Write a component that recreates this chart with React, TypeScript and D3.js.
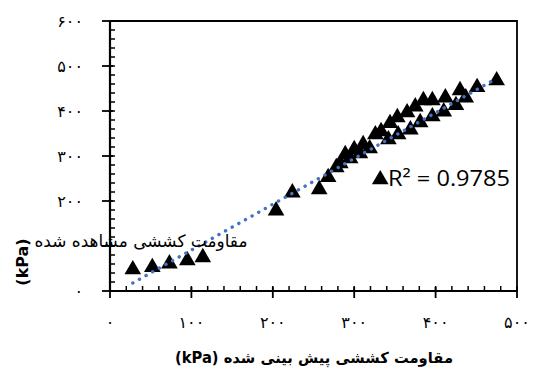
// App.tsx
import React, { useRef, useEffect } from 'react';
import * as d3 from 'd3';

// predicted (x) vs observed (y) tensile strength, kPa
const predicted = [
  28, 52, 73, 95, 114,
  204, 224, 257, 268, 278, 289, 300, 311, 326, 333, 344, 353, 365, 375, 385, 396, 412, 430, 451, 475,
  283, 295, 307, 319, 332, 342, 354, 369, 381, 396, 410, 425, 437,
];
const observed = [
  51, 56, 64, 71, 78,
  182, 222, 229, 256, 278, 307, 318, 329, 351, 358, 376, 389, 400, 413, 427, 427, 433, 449, 456, 471,
  287, 298, 309, 320, 251, 340, 351, 362, 378, 391, 402, 416, 433,
];

const xTicks = [0, 100, 200, 300, 400, 500];
const yTicks = [0, 100, 200, 300, 400, 500, 600];
const xTickLabels = ['۰', '۱۰۰', '۲۰۰', '۳۰۰', '۴۰۰', '۵۰۰'];
// the 100 label sits under the axis title in the source, so it is not shown
const yTickLabels = ['۰', '', '۲۰۰', '۳۰۰', '۴۰۰', '۵۰۰', '۶۰۰'];

const trendSlope = 1.017;
const trendIntercept = -10.7;
const r2Label = 'R² = 0.9785';

const xTitle = '(kPa) مقاومت کششی پیش بینی شده';
const yTitleUnit = '(kPa)';
const yTitleText = 'مقاومت کششی مشاهده شده';

const App = () => {
  const ref = useRef<SVGSVGElement>(null);

  useEffect(() => {
    document.body.style.margin = '0';
    const svg = d3.select(ref.current);
    svg.selectAll('*').remove();

    const width = 536, height = 372;
    const left = 110, right = 517, top = 21, bottom = 291;

    const x = d3.scaleLinear().domain([0, 500]).range([left, right]);
    const y = d3.scaleLinear().domain([0, 600]).range([bottom, top]);

    svg.attr('width', width).attr('height', height);
    svg.append('rect').attr('width', width).attr('height', height).attr('fill', '#fff');

    // plot border (top and right)
    svg.append('path')
      .attr('d', `M${left},${top}H${right}V${bottom}`)
      .attr('fill', 'none')
      .attr('stroke', '#000')
      .attr('stroke-width', 1.8);

    // minor ticks
    const minorX = d3.range(0, 501, 20);
    const minorY = d3.range(0, 601, 20);
    svg.append('g').selectAll('line').data(minorX).join('line')
      .attr('x1', d => x(d)).attr('x2', d => x(d))
      .attr('y1', bottom).attr('y2', bottom - 5)
      .attr('stroke', '#000').attr('stroke-width', 1.5);
    svg.append('g').selectAll('line').data(minorY).join('line')
      .attr('x1', left).attr('x2', left + 5)
      .attr('y1', d => y(d)).attr('y2', d => y(d))
      .attr('stroke', '#000').attr('stroke-width', 1.5);

    // major ticks
    svg.append('g').selectAll('line').data(xTicks).join('line')
      .attr('x1', d => x(d)).attr('x2', d => x(d))
      .attr('y1', bottom - 4).attr('y2', bottom + 7)
      .attr('stroke', '#000').attr('stroke-width', 1.8);
    svg.append('g').selectAll('line').data(yTicks).join('line')
      .attr('x1', left - 8).attr('x2', left + 3)
      .attr('y1', d => y(d)).attr('y2', d => y(d))
      .attr('stroke', '#000').attr('stroke-width', 1.8);

    // axis lines
    svg.append('line')
      .attr('x1', left).attr('x2', right).attr('y1', bottom).attr('y2', bottom)
      .attr('stroke', '#000').attr('stroke-width', 2.2);
    svg.append('line')
      .attr('x1', left).attr('x2', left).attr('y1', top).attr('y2', bottom)
      .attr('stroke', '#000').attr('stroke-width', 2.2);

    // tick labels
    svg.append('g').selectAll('text').data(xTicks).join('text')
      .attr('x', d => x(d)).attr('y', bottom + 37)
      .attr('text-anchor', 'middle')
      .attr('font-family', 'DejaVu Sans')
      .attr('font-size', 16)
      .text((d, i) => xTickLabels[i]);
    svg.append('g').selectAll('text')
      .data(yTicks.filter((d, i) => yTickLabels[i] !== ''))
      .join('text')
      .attr('x', left - 27).attr('y', d => y(d) + 6)
      .attr('text-anchor', 'end')
      .attr('font-family', 'DejaVu Sans')
      .attr('font-size', 16)
      .text(d => yTickLabels[yTicks.indexOf(d)]);

    // points
    const tri = d3.symbol().type(d3.symbolTriangle).size(120);
    svg.append('g').selectAll('path').data(predicted).join('path')
      .attr('d', tri)
      .attr('transform', (d, i) => `translate(${x(d)},${y(observed[i]) + 1.5})`)
      .attr('fill', '#000');

    // trendline
    const x0 = d3.min(predicted) as number;
    const x1 = d3.max(predicted) as number;
    const line = d3.line<number>().x(d => x(d)).y(d => y(trendSlope * d + trendIntercept));
    svg.append('path')
      .attr('d', line([x0, x1]))
      .attr('fill', 'none')
      .attr('stroke', '#4472C4')
      .attr('stroke-width', 3.4)
      .attr('stroke-linecap', 'round')
      .attr('stroke-dasharray', '0.1 7.5');

    // R² label
    svg.append('text')
      .attr('x', 388).attr('y', 186)
      .attr('font-family', 'Open Sans')
      .attr('font-size', 21)
      .attr('textLength', 122)
      .attr('lengthAdjust', 'spacingAndGlyphs')
      .attr('fill', '#000')
      .text(r2Label);

    // axis titles
    svg.append('text')
      .attr('x', 314).attr('y', 363)
      .attr('text-anchor', 'middle')
      .attr('font-family', 'DejaVu Sans')
      .attr('font-weight', 'bold')
      .attr('font-size', 15)
      .attr('textLength', 278)
      .attr('lengthAdjust', 'spacingAndGlyphs')
      .text(xTitle);
    svg.append('text')
      .attr('transform', 'translate(28,262) rotate(-90)')
      .attr('text-anchor', 'middle')
      .attr('font-family', 'DejaVu Sans')
      .attr('font-weight', 'bold')
      .attr('font-size', 16)
      .text(yTitleUnit);
    svg.append('text')
      .attr('x', 141).attr('y', 247)
      .attr('text-anchor', 'middle')
      .attr('font-family', 'DejaVu Sans')
      .attr('font-size', 17)
      .attr('textLength', 213)
      .attr('lengthAdjust', 'spacingAndGlyphs')
      .text(yTitleText);
  }, []);

  return <svg ref={ref}></svg>;
};

export default App;
